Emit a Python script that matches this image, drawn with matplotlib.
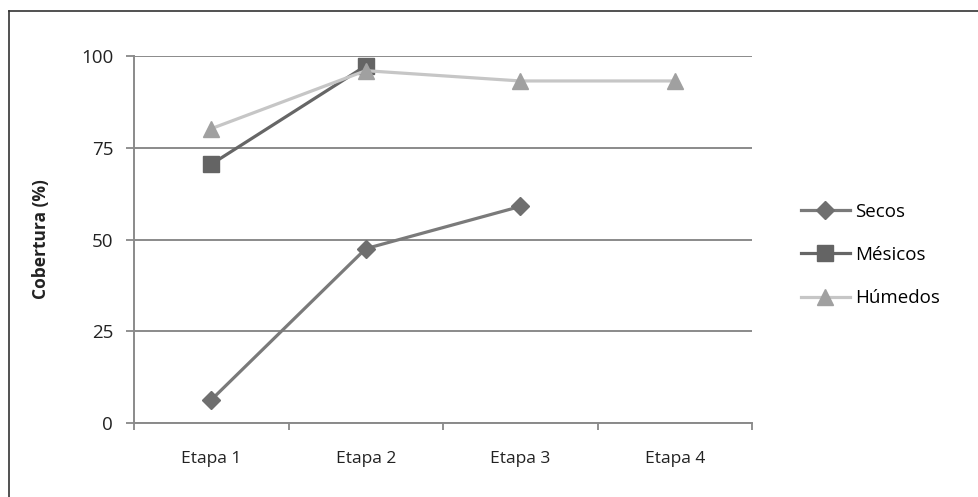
import matplotlib
matplotlib.use("Agg")
import matplotlib.pyplot as plt
from matplotlib.lines import Line2D
import numpy as np

categories = ["Etapa 1", "Etapa 2", "Etapa 3", "Etapa 4"]
secos = [6.3, 47.5, 59.0, np.nan]
mesicos = [70.5, 97.3, np.nan, np.nan]
humedos = [80.2, 96.0, 93.2, 93.2]
yticks = [0, 25, 50, 75, 100]

plt.rcParams['font.family'] = ['Open Sans', 'DejaVu Sans']

fig = plt.figure(figsize=(9.79, 4.97), dpi=100)
ax = fig.add_axes([134/979, 1-423/497, (752-134)/979, (423-56)/497])

x = np.arange(len(categories))
ax.plot(x, secos, color='#7a7a7a', lw=2.3, marker='D', ms=9.5,
        mfc='#6f6f6f', mec='#6f6f6f', label='Secos', zorder=4)
ax.plot(x, mesicos, color='#666666', lw=2.3, marker='s', ms=11,
        mfc='#646464', mec='#646464', label='Mésicos', zorder=3)
ax.plot(x, humedos, color='#c6c6c6', lw=2.3, marker='^', ms=12,
        mfc='#a0a0a0', mec='#a0a0a0', label='Húmedos', zorder=5)

ax.set_xlim(-0.5, 3.5)
ax.set_ylim(0, 100)
ax.set_yticks(yticks)
ax.set_xticks(x)
ax.set_xticklabels(categories)
ax.set_xticks([-0.5, 0.5, 1.5, 2.5, 3.5], minor=True)
ax.tick_params(axis='x', which='major', length=0, pad=20, labelsize=12.5, colors='#222222')
ax.tick_params(axis='x', which='minor', length=5, width=1.3, color='#888888')
ax.tick_params(axis='y', length=6, width=1.3, color='#888888', labelsize=13.5, pad=9, labelcolor='#222222')
ax.yaxis.grid(True, color='#8a8a8a', lw=1.4)
ax.set_axisbelow(True)
for s in ['top', 'right']:
    ax.spines[s].set_visible(False)
for s in ['left', 'bottom']:
    ax.spines[s].set_color('#8a8a8a')
    ax.spines[s].set_linewidth(1.4)
ax.set_ylabel('Cobertura (%)', fontsize=12.5, fontweight='bold', labelpad=22, color='#222222')

leg = ax.legend(loc='center left', bbox_to_anchor=(784/979, 1-255/497), bbox_transform=fig.transFigure,
                frameon=False, fontsize=13.5, handlelength=2.6, labelspacing=1.35, handletextpad=0.3)

fig.add_artist(Line2D([9/979, 1], [1-11/497, 1-11/497], transform=fig.transFigure, color='#333333', lw=1.2))
fig.add_artist(Line2D([9/979, 9/979], [0, 1-11/497], transform=fig.transFigure, color='#333333', lw=1.2))

fig.savefig('out.png', dpi=100)
